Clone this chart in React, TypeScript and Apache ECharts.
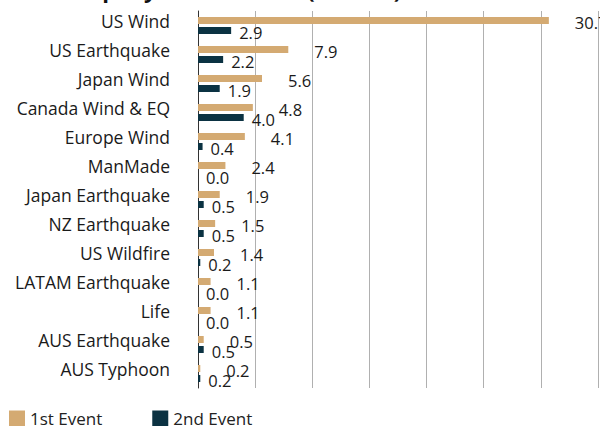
import React, { useEffect, useRef } from "react";
import * as echarts from "echarts";

const categories = [
  "US Wind",
  "US Earthquake",
  "Japan Wind",
  "Canada Wind & EQ",
  "Europe Wind",
  "ManMade",
  "Japan Earthquake",
  "NZ Earthquake",
  "US Wildfire",
  "LATAM Earthquake",
  "Life",
  "AUS Earthquake",
  "AUS Typhoon",
];
const firstEvent = [30.7, 7.9, 5.6, 4.8, 4.1, 2.4, 1.9, 1.5, 1.4, 1.1, 1.1, 0.5, 0.2];
const secondEvent = [2.9, 2.2, 1.9, 4.0, 0.4, 0.0, 0.5, 0.5, 0.2, 0.0, 0.0, 0.5, 0.2];
const titleText = "Company Event Losses (USD bn)";

const FONT = "'Open Sans', 'Noto Sans', sans-serif";

export default function App() {
  const ref = useRef<HTMLDivElement>(null);
  useEffect(() => {
    if (!ref.current) return;
    const chart = echarts.init(ref.current, null, { renderer: "svg" });
    chart.setOption({
      animation: false,
      textStyle: { fontFamily: FONT },
      title: {
        text: titleText,
        left: 48,
        top: -27,
        textStyle: { fontSize: 22, fontWeight: "bold", color: "#111", fontFamily: FONT },
      },
      grid: { left: 198, right: 2, top: 11, bottom: 38, containLabel: false },
      legend: {
        left: 4,
        top: 405,
        icon: "rect",
        itemWidth: 16,
        itemHeight: 16,
        itemGap: 50,
        textStyle: { fontSize: 17, color: "#222", fontFamily: FONT },
        data: ["1st Event", "2nd Event"],
      },
      xAxis: {
        type: "value",
        min: 0,
        max: 35,
        interval: 5,
        axisLabel: { show: false },
        axisLine: { show: false },
        axisTick: { show: false },
        splitLine: { lineStyle: { color: "#b0b0b0", width: 1 } },
      },
      yAxis: {
        type: "category",
        inverse: true,
        data: categories,
        axisLine: { lineStyle: { color: "#333", width: 1 } },
        axisTick: { show: false },
        axisLabel: {
          margin: 28,
          fontSize: 17.5,
          color: "#1a1a1a",
          fontFamily: FONT,
          verticalAlign: "bottom",
          lineHeight: 10,
        },
      },
      series: [
        {
          name: "1st Event",
          type: "bar",
          data: firstEvent,
          barWidth: 7,
          barGap: "43%",
          itemStyle: { color: "#D4AA72" },
          label: {
            show: true,
            position: "right",
            distance: 5,
            offset: [21, 2],
            fontSize: 16.5,
            color: "#1a1a1a",
            fontFamily: FONT,
            formatter: (p: any) => Number(p.value).toFixed(1),
          },
        },
        {
          name: "2nd Event",
          type: "bar",
          data: secondEvent,
          barWidth: 7,
          itemStyle: { color: "#0B3242" },
          label: {
            show: true,
            position: "right",
            distance: 5,
            offset: [3, 1.5],
            fontSize: 16.5,
            color: "#1a1a1a",
            fontFamily: FONT,
            formatter: (p: any) => Number(p.value).toFixed(1),
          },
        },
      ],
    });
    return () => chart.dispose();
  }, []);
  return <div ref={ref} style={{ width: 600, height: 426, position: "absolute", left: 0, top: 0 }} />;
}
